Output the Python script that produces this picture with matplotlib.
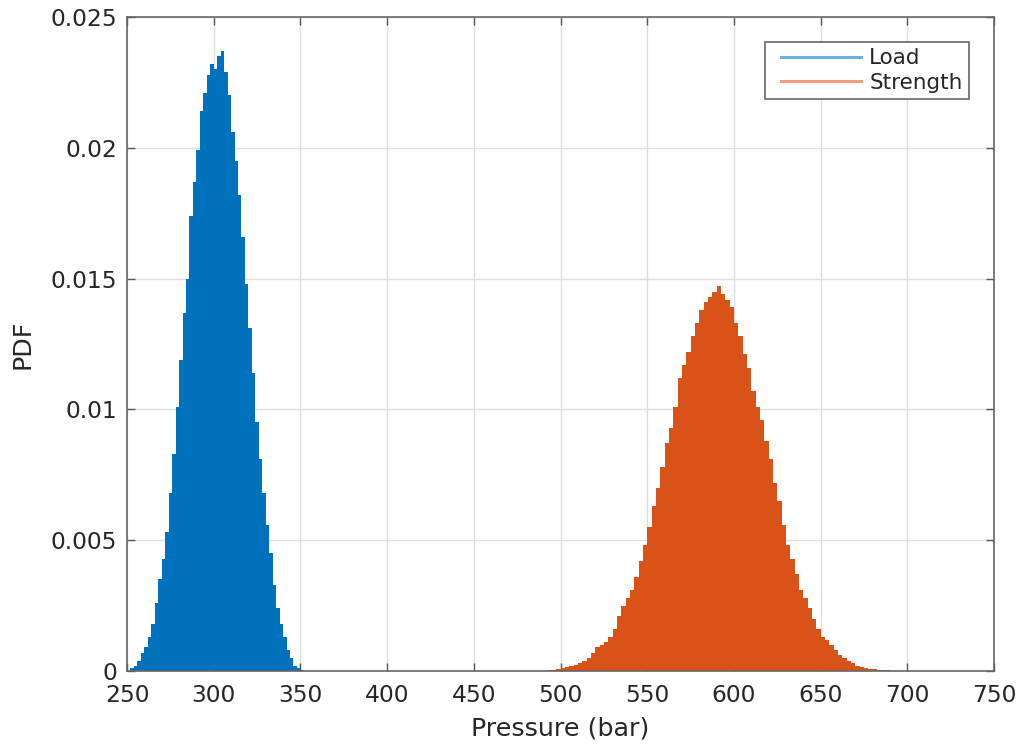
import matplotlib
matplotlib.use("Agg")
import matplotlib.pyplot as plt
from matplotlib.lines import Line2D
from matplotlib.legend_handler import HandlerLine2D
import numpy as np

plt.rcParams['font.family'] = ['DejaVu Sans']

# ---- data ----
load_start = 252.0
load_width = 2.0
load_pdf = [0.0001, 0.0002, 0.0004, 0.0007, 0.0009, 0.0013, 0.0018, 0.0026, 0.0035, 0.0043,
            0.0053, 0.0068, 0.0083, 0.0101, 0.0119, 0.0137, 0.0150, 0.0174, 0.0187, 0.0199,
            0.0214, 0.0221, 0.0228, 0.0232, 0.0230, 0.0235, 0.0237, 0.0229, 0.0220, 0.0206,
            0.0195, 0.0182, 0.0166, 0.0148, 0.0131, 0.0114, 0.0095, 0.0081, 0.0068, 0.0056,
            0.0045, 0.0033, 0.0024, 0.0018, 0.0013, 0.0008, 0.0005, 0.0002, 0.0001, 0.00005]

strength_start = 490.0
strength_width = 2.5
strength_pdf = [0.00002, 0.00003, 0.00005, 0.00008, 0.0001, 0.00014, 0.00018, 0.00024, 0.0003, 0.0004,
                0.0005, 0.0007, 0.0009, 0.0010, 0.0011, 0.0013, 0.0016, 0.0021, 0.0025, 0.0028,
                0.0031, 0.0036, 0.0042, 0.0048, 0.0055, 0.0063, 0.0070, 0.0078, 0.0087, 0.0093,
                0.0101, 0.0112, 0.0117, 0.0122, 0.0128, 0.0133, 0.0138, 0.0141, 0.0143, 0.0145,
                0.0147, 0.0144, 0.0142, 0.0139, 0.0133, 0.0128, 0.0121, 0.0116, 0.0107, 0.0101,
                0.0096, 0.0088, 0.0081, 0.0072, 0.0065, 0.0056, 0.0048, 0.0043, 0.0037, 0.0031,
                0.0028, 0.0024, 0.0020, 0.0016, 0.0013, 0.0012, 0.0010, 0.0008, 0.0006, 0.0005,
                0.0004, 0.0003, 0.0002, 0.00015, 0.0001, 0.00008, 0.00006, 0.00005, 0.00004, 0.00003,
                0.00002, 0.00002, 0.00001]

series_names = ["Load", "Strength"]
x_ticks = [250, 300, 350, 400, 450, 500, 550, 600, 650, 700, 750]
y_ticks = [0, 0.005, 0.01, 0.015, 0.02, 0.025]
y_tick_labels = ["0", "0.005", "0.01", "0.015", "0.02", "0.025"]

blue = "#0072BD"
orange = "#D95319"
text_col = "#262626"


class PadHandler(HandlerLine2D):
    """Line handle with some blank space on its left, like MATLAB's legend."""
    def __init__(self, pad_pts=7.0, **kw):
        super().__init__(**kw)
        self._pad_pts = pad_pts

    def get_xdata(self, legend, xdescent, ydescent, width, height, fontsize):
        xd, xdm = super().get_xdata(legend, xdescent, ydescent, width, height, fontsize)
        xd = np.asarray(xd, dtype=float)
        xd = np.linspace(xd.min() + self._pad_pts, xd.max(), len(xd))
        return xd, xdm


fig = plt.figure(figsize=(10.21, 7.48), dpi=100)
ax = fig.add_axes([0.1244, 0.1029, 0.8492, 0.8744])

load_edges = load_start + load_width * np.arange(len(load_pdf))
str_edges = strength_start + strength_width * np.arange(len(strength_pdf))
ax.bar(load_edges, load_pdf, width=load_width, align='edge', color=blue, linewidth=0, zorder=2)
ax.bar(str_edges, strength_pdf, width=strength_width, align='edge', color=orange, linewidth=0, zorder=2)

ax.set_xlim(250, 750)
ax.set_ylim(0, 0.025)
ax.set_xticks(x_ticks)
ax.set_yticks(y_ticks)
ax.set_yticklabels(y_tick_labels)
ax.grid(True, color="#DDDDDD", linewidth=1, zorder=0)
ax.set_axisbelow(True)
ax.tick_params(direction='in', length=6, width=1, top=True, right=True,
               labelsize=16.8, colors="#555555", labelcolor=text_col)
ax.tick_params(axis='x', pad=9.5)
ax.tick_params(axis='y', pad=7.0)
for s in ax.spines.values():
    s.set_color("#666666")
    s.set_linewidth(1.2)

ax.set_xlabel("Pressure (bar)", fontsize=18.3, color=text_col, labelpad=7)
ax.set_ylabel("PDF", fontsize=18.3, color=text_col, labelpad=11.5)

handles = [Line2D([0], [0], color="#6DB0DF", lw=2.2),
           Line2D([0], [0], color="#EE9E7E", lw=2.2)]
leg = ax.legend(handles, series_names, loc='upper right', fontsize=15.5, fancybox=False,
                framealpha=1, edgecolor="#666666", borderaxespad=1.16, handlelength=4.19,
                handletextpad=0.37, labelspacing=0.2, borderpad=0.3,
                handler_map={Line2D: PadHandler(pad_pts=7.0)})
leg.get_frame().set_linewidth(1.2)
for t in leg.get_texts():
    t.set_color(text_col)

fig.savefig("out.png", dpi=100)
